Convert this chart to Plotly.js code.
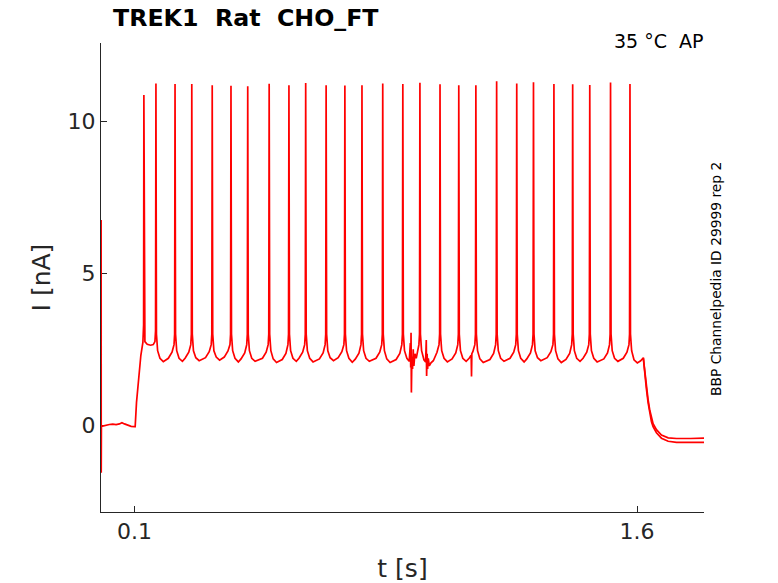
<!doctype html>
<html>
<head>
  <meta charset="utf-8">
  <title>TREK1 Rat CHO_FT</title>
  <script src="https://cdn.plot.ly/plotly-3.0.1.min.js"></script>
  <style>
    body { margin: 0; background: #fff; }
  </style>
</head>
<body>
  <div id="plot" style="width:778px;height:583px"></div>
  <script>
    // current trace, [t (s), I (nA)], one line per inter-spike interval
    var tracePoints = [
      [0, 0.0], [0.0004, 6.75], [0.0007, -1.57], [0.0012, -0.02], [0.005, -0.03], [0.015, 0.0], [0.025, 0.02],
      [0.035, 0.03], [0.045, 0.02], [0.055, 0.04], [0.0625, 0.08], [0.07, 0.04], [0.08, 0.0], [0.09, -0.04],
      [0.1, -0.05], [0.102, -0.05], [0.106, 0.75], [0.112, 1.6], [0.119, 2.3], [0.125, 2.72], [0.1272, 3.3], [0.128, 10.87],
      [0.1295, 3.0], [0.131, 2.75], [0.138, 2.66], [0.148, 2.63], [0.156, 2.65], [0.161, 2.75], [0.1628, 3.1], [0.164, 11.25],
      [0.1655, 3.0], [0.169, 2.45], [0.176, 2.2], [0.186, 2.09], [0.201, 2.2], [0.212, 2.4], [0.218, 2.65], [0.2198, 3.0], [0.221, 11.23],
      [0.2225, 3.0], [0.226, 2.45], [0.233, 2.2], [0.243, 2.10], [0.251, 2.2], [0.262, 2.4], [0.268, 2.65], [0.2698, 3.0], [0.271, 11.23],
      [0.2725, 3.0], [0.276, 2.45], [0.283, 2.22], [0.293, 2.12], [0.312, 2.22], [0.323, 2.42], [0.329, 2.65], [0.3308, 3.0], [0.332, 11.19],
      [0.3335, 3.0], [0.337, 2.45], [0.344, 2.24], [0.354, 2.14], [0.368, 2.24], [0.379, 2.44], [0.385, 2.65], [0.3868, 3.0], [0.388, 11.17],
      [0.3895, 3.0], [0.393, 2.45], [0.400, 2.2], [0.410, 2.08], [0.418, 2.18], [0.429, 2.38], [0.435, 2.65], [0.4368, 3.0], [0.438, 11.16],
      [0.4395, 3.0], [0.443, 2.45], [0.450, 2.2], [0.460, 2.10], [0.482, 2.2], [0.493, 2.4], [0.499, 2.65], [0.5008, 3.0], [0.502, 11.24],
      [0.5035, 3.0], [0.507, 2.45], [0.514, 2.18], [0.524, 2.06], [0.541, 2.16], [0.552, 2.36], [0.558, 2.65], [0.5598, 3.0], [0.561, 11.19],
      [0.5625, 3.0], [0.566, 2.45], [0.573, 2.2], [0.583, 2.10], [0.591, 2.2], [0.602, 2.4], [0.608, 2.65], [0.6098, 3.0], [0.611, 11.26],
      [0.6125, 3.0], [0.616, 2.45], [0.623, 2.2], [0.633, 2.08], [0.652, 2.18], [0.663, 2.38], [0.669, 2.65], [0.6708, 3.0], [0.672, 11.19],
      [0.6735, 3.0], [0.677, 2.45], [0.684, 2.22], [0.694, 2.12], [0.708, 2.22], [0.719, 2.42], [0.725, 2.65], [0.7268, 3.0], [0.728, 11.18],
      [0.7295, 3.0], [0.733, 2.45], [0.740, 2.2], [0.750, 2.07], [0.759, 2.17], [0.770, 2.37], [0.776, 2.65], [0.7778, 3.0], [0.779, 11.19],
      [0.7805, 3.0], [0.784, 2.45], [0.791, 2.2], [0.801, 2.10], [0.821, 2.2], [0.832, 2.4], [0.838, 2.65], [0.8398, 3.0], [0.841, 11.25],
      [0.8425, 3.0], [0.846, 2.45], [0.853, 2.18], [0.863, 2.06], [0.881, 2.16], [0.892, 2.36], [0.898, 2.65], [0.8998, 3.0], [0.901, 11.23],
      [0.9025, 3.0], [0.906, 2.45], [0.913, 2.2], [0.920, 2.1], [0.9235, 2.7], [0.9245, 1.9], [0.9255, 3.04], [0.9265, 1.07],
      [0.928, 2.25], [0.930, 1.85], [0.932, 2.5], [0.934, 1.95], [0.937, 2.35], [0.941, 2.2], [0.944, 2.4], [0.949, 2.65], [0.9508, 3.0], [0.952, 11.27],
      [0.9535, 3.0], [0.957, 2.45], [0.964, 2.15], [0.969, 2.08], [0.971, 2.8], [0.972, 1.62], [0.9735, 2.35], [0.975, 1.85],
      [0.977, 2.2], [0.980, 1.95], [0.985, 2.05], [0.992, 2.12], [1.003, 2.4], [1.009, 2.65], [1.0108, 3.0], [1.012, 11.22],
      [1.0135, 3.0], [1.017, 2.45], [1.024, 2.2], [1.034, 2.08], [1.048, 2.18], [1.059, 2.38], [1.065, 2.65], [1.0668, 3.0], [1.068, 11.19],
      [1.0695, 3.0], [1.073, 2.45], [1.080, 2.2], [1.090, 2.10], [1.099, 2.2], [1.105, 2.3], [1.106, 1.60], [1.107, 2.35],
      [1.110, 2.42], [1.116, 2.65], [1.1178, 3.0], [1.119, 11.19],
      [1.1205, 3.0], [1.124, 2.45], [1.131, 2.18], [1.141, 2.06], [1.161, 2.16], [1.172, 2.36], [1.178, 2.65], [1.1798, 3.0], [1.181, 11.32],
      [1.1825, 3.0], [1.186, 2.45], [1.193, 2.2], [1.203, 2.10], [1.221, 2.2], [1.232, 2.4], [1.238, 2.65], [1.2398, 3.0], [1.241, 11.25],
      [1.2425, 3.0], [1.246, 2.45], [1.253, 2.2], [1.263, 2.08], [1.271, 2.18], [1.282, 2.38], [1.288, 2.65], [1.2898, 3.0], [1.291, 11.29],
      [1.2925, 3.0], [1.296, 2.45], [1.303, 2.22], [1.313, 2.12], [1.332, 2.22], [1.343, 2.42], [1.349, 2.65], [1.3508, 3.0], [1.352, 11.23],
      [1.3535, 3.0], [1.357, 2.45], [1.364, 2.18], [1.374, 2.06], [1.388, 2.16], [1.399, 2.36], [1.405, 2.65], [1.4068, 3.0], [1.408, 11.22],
      [1.4095, 3.0], [1.413, 2.45], [1.420, 2.2], [1.430, 2.10], [1.439, 2.2], [1.450, 2.4], [1.456, 2.65], [1.4578, 3.0], [1.459, 11.20],
      [1.4605, 3.0], [1.464, 2.45], [1.471, 2.2], [1.481, 2.08], [1.501, 2.18], [1.512, 2.38], [1.518, 2.65], [1.5198, 3.0], [1.521, 11.28],
      [1.5225, 3.0], [1.526, 2.45], [1.533, 2.2], [1.543, 2.10], [1.559, 2.2], [1.570, 2.4], [1.576, 2.65], [1.5778, 3.0], [1.579, 11.23],
      [1.5805, 3.0], [1.584, 2.45], [1.591, 2.15], [1.601, 2.05], [1.611, 2.12], [1.617, 2.2], [1.619, 2.22], [1.621, 2.0],
      [1.625, 1.6], [1.628, 1.27], [1.633, 0.85], [1.638, 0.5], [1.643, 0.22], [1.648, 0.05], [1.658, -0.15], [1.673, -0.33],
      [1.693, -0.42], [1.718, -0.44], [1.76, -0.44], [1.8, -0.43]
    ];

    // second repetition, only visible where it splits off after the step
    var repTailPoints = [
      [1.619, 2.2], [1.621, 1.95], [1.625, 1.5], [1.628, 1.2], [1.633, 0.75], [1.638, 0.4], [1.643, 0.12], [1.648, -0.05],
      [1.658, -0.25], [1.673, -0.43], [1.693, -0.53], [1.718, -0.57], [1.76, -0.58], [1.8, -0.57]
    ];

    var xTicks = [0.1, 1.6];
    var xTickLabels = ['0.1', '1.6'];
    var yTicks = [0, 5, 10];
    var yTickLabels = ['0', '5', '10'];

    var font = 'DejaVu Sans, Arial, sans-serif';
    var ink = '#262626';

    var traces = [tracePoints, repTailPoints].map(function(pts) {
      return {
        x: pts.map(function(p) { return p[0]; }),
        y: pts.map(function(p) { return p[1]; }),
        mode: 'lines',
        type: 'scatter',
        line: { color: '#ff0000', width: 1.7 },
        hoverinfo: 'skip'
      };
    });

    var layout = {
      width: 778,
      height: 583,
      margin: { l: 101, r: 74, t: 43, b: 71 },
      paper_bgcolor: '#fff',
      plot_bgcolor: '#fff',
      showlegend: false,
      font: { family: font, color: ink },
      title: {
        text: '<b>TREK1\u00a0\u00a0Rat\u00a0\u00a0CHO_FT</b>',
        font: { family: font, size: 23.7, color: '#000' },
        xref: 'container', yref: 'container',
        x: 113 / 778, xanchor: 'left',
        y: 1 - 18 / 583, yanchor: 'middle'
      },
      xaxis: {
        range: [0, 1.8],
        tickvals: xTicks,
        ticktext: xTickLabels,
        ticks: 'inside', ticklen: 6, tickcolor: ink,
        showline: true, linecolor: ink, linewidth: 1,
        showgrid: false, zeroline: false,
        layer: 'below traces',
        tickfont: { family: font, size: 22, color: ink },
        title: { text: 't [s]', font: { family: font, size: 25, color: ink }, standoff: 16 }
      },
      yaxis: {
        range: [-2.86, 12.58],
        tickvals: yTicks,
        ticktext: yTickLabels,
        ticks: 'inside', ticklen: 6, tickcolor: ink,
        showline: true, linecolor: ink, linewidth: 1,
        showgrid: false, zeroline: false,
        layer: 'below traces',
        tickfont: { family: font, size: 22, color: ink },
        title: { text: 'I [nA]', font: { family: font, size: 25, color: ink }, standoff: 9 }
      },
      annotations: [
        {
          text: '35 °C\u00a0\u00a0AP',
          xref: 'paper', yref: 'paper',
          x: 1.004, xanchor: 'right',
          y: 1.004, yanchor: 'middle',
          showarrow: false,
          font: { family: font, size: 19, color: '#000' }
        },
        {
          text: 'BBP Channelpedia ID 29999 rep 2',
          xref: 'paper', yref: 'paper',
          x: (716 - 101) / 603, xanchor: 'center',
          y: 0.497, yanchor: 'middle',
          textangle: -90,
          showarrow: false,
          font: { family: font, size: 13.8, color: '#000' }
        }
      ]
    };

    Plotly.newPlot('plot', traces, layout, { staticPlot: true, displayModeBar: false });
  </script>
</body>
</html>
